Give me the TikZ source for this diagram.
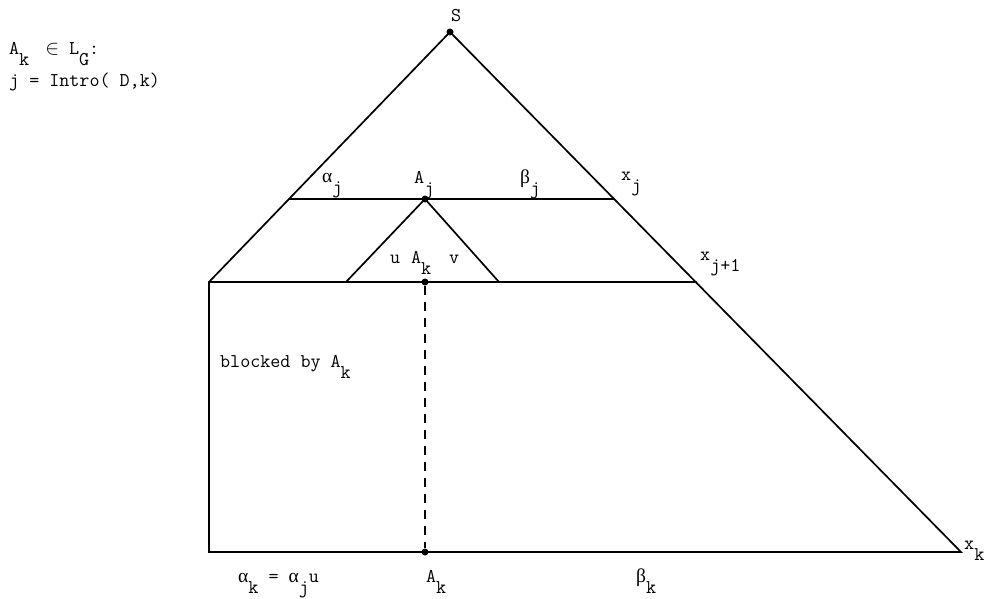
\documentclass[tikz,border=0pt]{standalone}
\usepackage{fontspec}
\newfontfamily\grk{Liberation Serif}
\newcommand{\lo}[1]{\raisebox{-11pt}{#1}}
\newcommand{\ga}{{\grk α}}
\newcommand{\gb}{{\grk β}}
\begin{document}
\begin{tikzpicture}[x=1pt,y=-1pt,
  edge/.style={line width=1.7pt, line join=miter, line cap=round},
  dotmark/.style={circle, fill=black, inner sep=0pt, minimum size=7pt},
  lbl/.style={inner sep=0pt, anchor=base west, font=\fontsize{19.5}{22}\selectfont\ttfamily}]
\useasboundingbox (0,0) rectangle (990,599);
% geometry
\coordinate (S) at (450,32);
\coordinate (L) at (209,282);
\coordinate (BL) at (209,552);
\coordinate (XK) at (961,552);
\coordinate (PL) at (289,199);
\coordinate (PR) at (614,199);
\coordinate (QR) at (696,282);
\coordinate (SL) at (346,282);
\coordinate (SR) at (499,282);
\node[dotmark] (Sd) at (S) {};
\node[dotmark] (Aj) at (425,199) {};
\node[dotmark] (Ak) at (425,282) {};
\node[dotmark] (Akb) at (425,552) {};
% shapes
\draw[edge] (S) -- (L) -- (BL) -- (XK) -- cycle;
\draw[edge] (PL) -- (PR);
\draw[edge] (L) -- (QR);
\draw[edge] (SL) -- (Aj.center) -- (SR);
\draw[line width=1.2pt, dash pattern=on 9pt off 7pt] (Ak) -- (Akb);
% labels
\node[lbl] (tS) at (451,22) {S};
\node[lbl] (t1) at (9,55) {A\lo{k}\hspace{16pt}$\in$\hspace{10pt}L\lo{G}:};
\node[lbl] (t2) at (9,87) {j = Intro( D,k)};
\node[lbl] (taj) at (322,182) {\ga\lo{j}};
\node[lbl] (tAj) at (414,183) {A\lo{j}};
\node[lbl] (tbj) at (520,183) {\gb\lo{j}};
\node[lbl] (txj) at (621,180) {x\lo{j}};
\node[lbl] (tu) at (390,263) {u};
\node[lbl] (tAk) at (411,263) {A\lo{k}};
\node[lbl] (tv) at (449,263) {v};
\node[lbl] (txj1) at (700,260) {x\lo{j+1}};
\node[lbl] (tbl) at (220,367) {blocked by A\lo{k}};
\node[lbl] (tak) at (238,582) {\ga\lo{k} = \ga\lo{j}u};
\node[lbl] (tAkb) at (426,582) {A\lo{k}};
\node[lbl] (tbk) at (636,582) {\gb\lo{k}};
\node[lbl] (txk) at (964,549) {x\lo{k}};
\end{tikzpicture}
\end{document}
